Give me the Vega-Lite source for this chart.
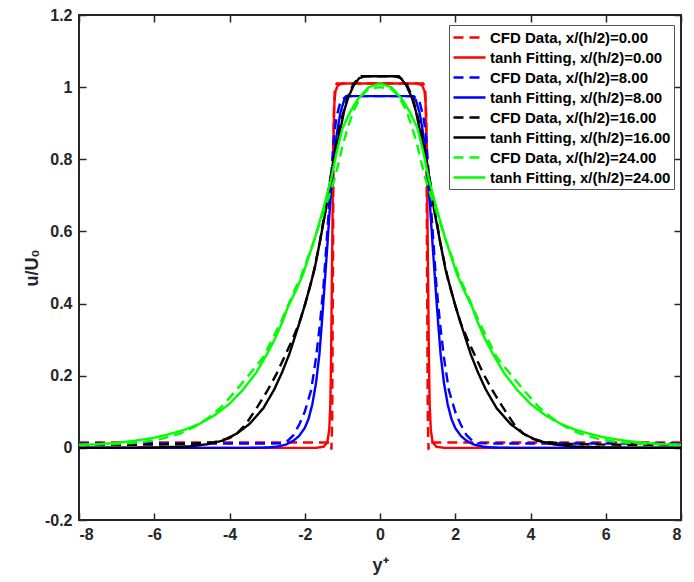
{
  "$schema": "https://vega.github.io/schema/vega-lite/v6.json",
  "width": 602,
  "height": 505,
  "autosize": {"type": "none"},
  "padding": {"left": 79, "top": 15, "right": 13, "bottom": 62},
  "background": "white",
  "config": {
    "font": "Liberation Sans",
    "view": {"stroke": "#262626", "strokeWidth": 2},
    "axis": {
      "domain": false,
      "grid": false,
      "tickColor": "#262626",
      "tickWidth": 1.5,
      "tickSize": -7,
      "labelFont": "Liberation Sans",
      "labelFontWeight": "bold",
      "labelFontSize": 16,
      "labelColor": "#262626",
      "titleFont": "Liberation Sans",
      "titleFontWeight": "bold",
      "titleFontSize": 18,
      "titleColor": "#262626"
    },
    "legend": {
      "fillColor": "white",
      "strokeColor": "#555555",
      "strokeWidth": 1,
      "padding": 3,
      "symbolType": "M-1,0H3",
      "symbolSize": 256,
      "symbolStrokeWidth": 2.4,
      "labelFont": "Liberation Sans",
      "labelFontSize": 15,
      "labelFontWeight": "bold",
      "labelColor": "#000000",
      "labelOffset": 19,
      "labelLimit": 400,
      "rowPadding": 2
    }
  },
  "data": {
    "values": [
      {"k":"A","x":-8,"u":0.015},{"k":"A","x":-1.31,"u":0.015},{"k":"A","x":-1.29,"u":-0.005},{"k":"A","x":-1.27,"u":0.08},{"k":"A","x":-1.25,"u":0.5},{"k":"A","x":-1.23,"u":0.92},{"k":"A","x":-1.2,"u":1.0},{"k":"A","x":-1.15,"u":1.01},{"k":"A","x":0,"u":1.01},{"k":"A","x":1.15,"u":1.01},{"k":"A","x":1.2,"u":1.0},{"k":"A","x":1.23,"u":0.92},{"k":"A","x":1.25,"u":0.5},{"k":"A","x":1.27,"u":0.08},{"k":"A","x":1.29,"u":-0.005},{"k":"A","x":1.31,"u":0.015},{"k":"A","x":8,"u":0.015},

      {"k":"B","x":-8,"u":0},{"k":"B","x":-1.7,"u":0},{"k":"B","x":-1.5,"u":0.003},{"k":"B","x":-1.4,"u":0.015},{"k":"B","x":-1.35,"u":0.05},{"k":"B","x":-1.32,"u":0.12},{"k":"B","x":-1.3,"u":0.25},{"k":"B","x":-1.28,"u":0.45},{"k":"B","x":-1.26,"u":0.65},{"k":"B","x":-1.24,"u":0.85},{"k":"B","x":-1.21,"u":0.96},{"k":"B","x":-1.18,"u":0.99},{"k":"B","x":-1.12,"u":1.005},{"k":"B","x":-1.0,"u":1.01},{"k":"B","x":0,"u":1.01},{"k":"B","x":1.0,"u":1.01},{"k":"B","x":1.12,"u":1.005},{"k":"B","x":1.18,"u":0.99},{"k":"B","x":1.21,"u":0.96},{"k":"B","x":1.24,"u":0.85},{"k":"B","x":1.26,"u":0.65},{"k":"B","x":1.28,"u":0.45},{"k":"B","x":1.3,"u":0.25},{"k":"B","x":1.32,"u":0.12},{"k":"B","x":1.35,"u":0.05},{"k":"B","x":1.4,"u":0.015},{"k":"B","x":1.5,"u":0.003},{"k":"B","x":1.7,"u":0},{"k":"B","x":8,"u":0},

      {"k":"C","x":-8,"u":0.012},{"k":"C","x":-3.0,"u":0.012},{"k":"C","x":-2.6,"u":0.013},{"k":"C","x":-2.45,"u":0.02},{"k":"C","x":-2.3,"u":0.035},{"k":"C","x":-2.14,"u":0.066},{"k":"C","x":-2.0,"u":0.1},{"k":"C","x":-1.83,"u":0.16},{"k":"C","x":-1.7,"u":0.25},{"k":"C","x":-1.6,"u":0.34},{"k":"C","x":-1.5,"u":0.45},{"k":"C","x":-1.4,"u":0.6},{"k":"C","x":-1.3,"u":0.75},{"k":"C","x":-1.22,"u":0.87},{"k":"C","x":-1.15,"u":0.92},{"k":"C","x":-1.05,"u":0.96},{"k":"C","x":-0.9,"u":0.975},{"k":"C","x":0,"u":0.975},{"k":"C","x":0.9,"u":0.975},{"k":"C","x":1.05,"u":0.96},{"k":"C","x":1.15,"u":0.92},{"k":"C","x":1.22,"u":0.87},{"k":"C","x":1.3,"u":0.75},{"k":"C","x":1.4,"u":0.6},{"k":"C","x":1.5,"u":0.45},{"k":"C","x":1.6,"u":0.34},{"k":"C","x":1.7,"u":0.25},{"k":"C","x":1.83,"u":0.16},{"k":"C","x":2.0,"u":0.1},{"k":"C","x":2.14,"u":0.066},{"k":"C","x":2.3,"u":0.035},{"k":"C","x":2.45,"u":0.02},{"k":"C","x":2.6,"u":0.013},{"k":"C","x":3.0,"u":0.012},{"k":"C","x":8,"u":0.012},

      {"k":"D","x":-8,"u":0},{"k":"D","x":-3.5,"u":0},{"k":"D","x":-3.0,"u":0.001},{"k":"D","x":-2.75,"u":0.003},{"k":"D","x":-2.5,"u":0.009},{"k":"D","x":-2.3,"u":0.02},{"k":"D","x":-2.15,"u":0.033},{"k":"D","x":-2.0,"u":0.055},{"k":"D","x":-1.9,"u":0.08},{"k":"D","x":-1.8,"u":0.12},{"k":"D","x":-1.7,"u":0.18},{"k":"D","x":-1.61,"u":0.26},{"k":"D","x":-1.55,"u":0.34},{"k":"D","x":-1.48,"u":0.44},{"k":"D","x":-1.4,"u":0.56},{"k":"D","x":-1.33,"u":0.67},{"k":"D","x":-1.25,"u":0.78},{"k":"D","x":-1.15,"u":0.87},{"k":"D","x":-1.05,"u":0.93},{"k":"D","x":-0.95,"u":0.965},{"k":"D","x":-0.8,"u":0.975},{"k":"D","x":0,"u":0.975},{"k":"D","x":0.8,"u":0.975},{"k":"D","x":0.95,"u":0.965},{"k":"D","x":1.05,"u":0.93},{"k":"D","x":1.15,"u":0.87},{"k":"D","x":1.25,"u":0.78},{"k":"D","x":1.33,"u":0.67},{"k":"D","x":1.4,"u":0.56},{"k":"D","x":1.48,"u":0.44},{"k":"D","x":1.55,"u":0.34},{"k":"D","x":1.61,"u":0.26},{"k":"D","x":1.7,"u":0.18},{"k":"D","x":1.8,"u":0.12},{"k":"D","x":1.9,"u":0.08},{"k":"D","x":2.0,"u":0.055},{"k":"D","x":2.15,"u":0.033},{"k":"D","x":2.3,"u":0.02},{"k":"D","x":2.5,"u":0.009},{"k":"D","x":2.75,"u":0.003},{"k":"D","x":3.0,"u":0.001},{"k":"D","x":3.5,"u":0},{"k":"D","x":8,"u":0},

      {"k":"E","x":-8,"u":0.008},{"k":"E","x":-6,"u":0.009},{"k":"E","x":-5.0,"u":0.011},{"k":"E","x":-4.4,"u":0.016},{"k":"E","x":-4.0,"u":0.027},{"k":"E","x":-3.8,"u":0.04},{"k":"E","x":-3.56,"u":0.066},{"k":"E","x":-3.25,"u":0.115},{"k":"E","x":-2.99,"u":0.159},{"k":"E","x":-2.75,"u":0.205},{"k":"E","x":-2.54,"u":0.252},{"k":"E","x":-2.35,"u":0.295},{"k":"E","x":-2.15,"u":0.345},{"k":"E","x":-2.0,"u":0.395},{"k":"E","x":-1.8,"u":0.47},{"k":"E","x":-1.6,"u":0.57},{"k":"E","x":-1.45,"u":0.665},{"k":"E","x":-1.3,"u":0.76},{"k":"E","x":-1.15,"u":0.85},{"k":"E","x":-1.0,"u":0.92},{"k":"E","x":-0.85,"u":0.975},{"k":"E","x":-0.7,"u":1.01},{"k":"E","x":-0.5,"u":1.03},{"k":"E","x":0,"u":1.03},{"k":"E","x":0.5,"u":1.03},{"k":"E","x":0.7,"u":1.01},{"k":"E","x":0.85,"u":0.975},{"k":"E","x":1.0,"u":0.92},{"k":"E","x":1.15,"u":0.85},{"k":"E","x":1.3,"u":0.76},{"k":"E","x":1.45,"u":0.665},{"k":"E","x":1.6,"u":0.57},{"k":"E","x":1.8,"u":0.47},{"k":"E","x":2.0,"u":0.395},{"k":"E","x":2.15,"u":0.345},{"k":"E","x":2.35,"u":0.295},{"k":"E","x":2.54,"u":0.252},{"k":"E","x":2.75,"u":0.205},{"k":"E","x":2.99,"u":0.159},{"k":"E","x":3.25,"u":0.115},{"k":"E","x":3.56,"u":0.066},{"k":"E","x":3.8,"u":0.04},{"k":"E","x":4.0,"u":0.027},{"k":"E","x":4.4,"u":0.016},{"k":"E","x":5.0,"u":0.011},{"k":"E","x":6,"u":0.009},{"k":"E","x":8,"u":0.008},

      {"k":"F","x":-8,"u":0},{"k":"F","x":-6,"u":0.001},{"k":"F","x":-5.07,"u":0.004},{"k":"F","x":-4.6,"u":0.01},{"k":"F","x":-4.18,"u":0.02},{"k":"F","x":-3.8,"u":0.04},{"k":"F","x":-3.47,"u":0.066},{"k":"F","x":-3.1,"u":0.11},{"k":"F","x":-2.81,"u":0.162},{"k":"F","x":-2.6,"u":0.21},{"k":"F","x":-2.41,"u":0.26},{"k":"F","x":-2.13,"u":0.35},{"k":"F","x":-2.0,"u":0.395},{"k":"F","x":-1.88,"u":0.44},{"k":"F","x":-1.74,"u":0.495},{"k":"F","x":-1.6,"u":0.57},{"k":"F","x":-1.43,"u":0.665},{"k":"F","x":-1.3,"u":0.755},{"k":"F","x":-1.12,"u":0.85},{"k":"F","x":-0.95,"u":0.935},{"k":"F","x":-0.85,"u":0.97},{"k":"F","x":-0.7,"u":1.005},{"k":"F","x":-0.55,"u":1.025},{"k":"F","x":-0.4,"u":1.03},{"k":"F","x":0,"u":1.03},{"k":"F","x":0.4,"u":1.03},{"k":"F","x":0.55,"u":1.025},{"k":"F","x":0.7,"u":1.005},{"k":"F","x":0.85,"u":0.97},{"k":"F","x":0.95,"u":0.935},{"k":"F","x":1.12,"u":0.85},{"k":"F","x":1.3,"u":0.755},{"k":"F","x":1.43,"u":0.665},{"k":"F","x":1.6,"u":0.57},{"k":"F","x":1.74,"u":0.495},{"k":"F","x":1.88,"u":0.44},{"k":"F","x":2.0,"u":0.395},{"k":"F","x":2.13,"u":0.35},{"k":"F","x":2.41,"u":0.26},{"k":"F","x":2.6,"u":0.21},{"k":"F","x":2.81,"u":0.162},{"k":"F","x":3.1,"u":0.11},{"k":"F","x":3.47,"u":0.066},{"k":"F","x":3.8,"u":0.04},{"k":"F","x":4.18,"u":0.02},{"k":"F","x":4.6,"u":0.01},{"k":"F","x":5.07,"u":0.004},{"k":"F","x":6,"u":0.001},{"k":"F","x":8,"u":0},

      {"k":"G","x":-8,"u":0.009},{"k":"G","x":-7.0,"u":0.011},{"k":"G","x":-6.3,"u":0.016},{"k":"G","x":-5.8,"u":0.025},{"k":"G","x":-5.3,"u":0.04},{"k":"G","x":-4.9,"u":0.06},{"k":"G","x":-4.54,"u":0.085},{"k":"G","x":-4.2,"u":0.115},{"k":"G","x":-3.83,"u":0.159},{"k":"G","x":-3.5,"u":0.2},{"k":"G","x":-3.1,"u":0.252},{"k":"G","x":-2.65,"u":0.345},{"k":"G","x":-2.3,"u":0.43},{"k":"G","x":-2.1,"u":0.475},{"k":"G","x":-1.75,"u":0.575},{"k":"G","x":-1.5,"u":0.655},{"k":"G","x":-1.35,"u":0.7},{"k":"G","x":-1.21,"u":0.745},{"k":"G","x":-1.1,"u":0.79},{"k":"G","x":-1.0,"u":0.835},{"k":"G","x":-0.85,"u":0.89},{"k":"G","x":-0.7,"u":0.935},{"k":"G","x":-0.5,"u":0.975},{"k":"G","x":-0.3,"u":0.995},{"k":"G","x":0,"u":1.0},{"k":"G","x":0.3,"u":0.995},{"k":"G","x":0.5,"u":0.975},{"k":"G","x":0.7,"u":0.935},{"k":"G","x":0.85,"u":0.89},{"k":"G","x":1.0,"u":0.835},{"k":"G","x":1.1,"u":0.79},{"k":"G","x":1.21,"u":0.745},{"k":"G","x":1.35,"u":0.7},{"k":"G","x":1.5,"u":0.655},{"k":"G","x":1.75,"u":0.575},{"k":"G","x":2.1,"u":0.475},{"k":"G","x":2.3,"u":0.43},{"k":"G","x":2.65,"u":0.345},{"k":"G","x":3.1,"u":0.252},{"k":"G","x":3.5,"u":0.2},{"k":"G","x":3.83,"u":0.159},{"k":"G","x":4.2,"u":0.115},{"k":"G","x":4.54,"u":0.085},{"k":"G","x":4.9,"u":0.06},{"k":"G","x":5.3,"u":0.04},{"k":"G","x":5.8,"u":0.025},{"k":"G","x":6.3,"u":0.016},{"k":"G","x":7.0,"u":0.011},{"k":"G","x":8,"u":0.009},

      {"k":"H","x":-8,"u":0.008},{"k":"H","x":-7.5,"u":0.01},{"k":"H","x":-7.0,"u":0.014},{"k":"H","x":-6.5,"u":0.02},{"k":"H","x":-6.0,"u":0.028},{"k":"H","x":-5.6,"u":0.038},{"k":"H","x":-5.2,"u":0.05},{"k":"H","x":-4.81,"u":0.066},{"k":"H","x":-4.4,"u":0.09},{"k":"H","x":-4.0,"u":0.122},{"k":"H","x":-3.65,"u":0.16},{"k":"H","x":-3.3,"u":0.207},{"k":"H","x":-3.03,"u":0.255},{"k":"H","x":-2.8,"u":0.3},{"k":"H","x":-2.59,"u":0.35},{"k":"H","x":-2.45,"u":0.39},{"k":"H","x":-2.23,"u":0.437},{"k":"H","x":-2.05,"u":0.48},{"k":"H","x":-1.75,"u":0.575},{"k":"H","x":-1.5,"u":0.665},{"k":"H","x":-1.3,"u":0.745},{"k":"H","x":-1.15,"u":0.82},{"k":"H","x":-1.0,"u":0.885},{"k":"H","x":-0.8,"u":0.93},{"k":"H","x":-0.6,"u":0.965},{"k":"H","x":-0.3,"u":1.0},{"k":"H","x":0,"u":1.01},{"k":"H","x":0.3,"u":1.0},{"k":"H","x":0.6,"u":0.965},{"k":"H","x":0.8,"u":0.93},{"k":"H","x":1.0,"u":0.885},{"k":"H","x":1.15,"u":0.82},{"k":"H","x":1.3,"u":0.745},{"k":"H","x":1.5,"u":0.665},{"k":"H","x":1.75,"u":0.575},{"k":"H","x":2.05,"u":0.48},{"k":"H","x":2.23,"u":0.437},{"k":"H","x":2.45,"u":0.39},{"k":"H","x":2.59,"u":0.35},{"k":"H","x":2.8,"u":0.3},{"k":"H","x":3.03,"u":0.255},{"k":"H","x":3.3,"u":0.207},{"k":"H","x":3.65,"u":0.16},{"k":"H","x":4.0,"u":0.122},{"k":"H","x":4.4,"u":0.09},{"k":"H","x":4.81,"u":0.066},{"k":"H","x":5.2,"u":0.05},{"k":"H","x":5.6,"u":0.038},{"k":"H","x":6.0,"u":0.028},{"k":"H","x":6.5,"u":0.02},{"k":"H","x":7.0,"u":0.014},{"k":"H","x":7.5,"u":0.01},{"k":"H","x":8,"u":0.008}
    ]
  },
  "transform": [
    {
      "lookup": "k",
      "from": {
        "data": {
          "values": [
            {"k": "A", "series": "CFD Data, x/(h/2)=0.00"},
            {"k": "B", "series": "tanh Fitting, x/(h/2)=0.00"},
            {"k": "C", "series": "CFD Data, x/(h/2)=8.00"},
            {"k": "D", "series": "tanh Fitting, x/(h/2)=8.00"},
            {"k": "E", "series": "CFD Data, x/(h/2)=16.00"},
            {"k": "F", "series": "tanh Fitting, x/(h/2)=16.00"},
            {"k": "G", "series": "CFD Data, x/(h/2)=24.00"},
            {"k": "H", "series": "tanh Fitting, x/(h/2)=24.00"}
          ]
        },
        "key": "k",
        "fields": ["series"]
      }
    }
  ],
  "layer": [
    {
      "mark": {"type": "line", "strokeWidth": 2.4, "clip": true},
      "encoding": {
        "x": {
          "field": "x",
          "type": "quantitative",
          "scale": {"domain": [-8, 8], "nice": false, "zero": false},
          "axis": {
            "orient": "bottom",
            "values": [-8, -6, -4, -2, 0, 2, 4, 6, 8],
            "labelExpr": "replace(format(datum.value, '~g'), '−', '-')",
            "labelPadding": 13,
            "title": "y⁺",
            "titlePadding": 14
          }
        },
        "y": {
          "field": "u",
          "type": "quantitative",
          "scale": {"domain": [-0.2, 1.2], "nice": false, "zero": false},
          "axis": {
            "orient": "left",
            "values": [-0.2, 0, 0.2, 0.4, 0.6, 0.8, 1, 1.2],
            "labelExpr": "replace(format(datum.value, '~g'), '−', '-')",
            "labelPadding": 14,
            "title": "u/U₀",
            "titlePadding": 3
          }
        },
        "color": {
          "field": "series",
          "type": "nominal",
          "scale": {
            "domain": ["CFD Data, x/(h/2)=0.00", "tanh Fitting, x/(h/2)=0.00", "CFD Data, x/(h/2)=8.00", "tanh Fitting, x/(h/2)=8.00", "CFD Data, x/(h/2)=16.00", "tanh Fitting, x/(h/2)=16.00", "CFD Data, x/(h/2)=24.00", "tanh Fitting, x/(h/2)=24.00"],
            "range": ["#ff0000", "#ff0000", "#0000ff", "#0000ff", "#000000", "#000000", "#00ff00", "#00ff00"]
          },
          "legend": {"title": null, "orient": "none", "legendX": 370, "legendY": 10}
        },
        "strokeDash": {
          "field": "series",
          "type": "nominal",
          "scale": {
            "domain": ["CFD Data, x/(h/2)=0.00", "tanh Fitting, x/(h/2)=0.00", "CFD Data, x/(h/2)=8.00", "tanh Fitting, x/(h/2)=8.00", "CFD Data, x/(h/2)=16.00", "tanh Fitting, x/(h/2)=16.00", "CFD Data, x/(h/2)=24.00", "tanh Fitting, x/(h/2)=24.00"],
            "range": [[10, 6], [1, 0], [10, 6], [1, 0], [10, 6], [1, 0], [10, 6], [1, 0]]
          },
          "legend": {"title": null, "orient": "none", "legendX": 370, "legendY": 10}
        }
      }
    },
    {
      "mark": {"type": "point", "opacity": 0},
      "encoding": {
        "x": {
          "field": "x",
          "type": "quantitative",
          "axis": {"orient": "top", "values": [-8, -6, -4, -2, 0, 2, 4, 6, 8], "labels": false, "title": null}
        },
        "y": {
          "field": "u",
          "type": "quantitative",
          "axis": {"orient": "right", "values": [-0.2, 0, 0.2, 0.4, 0.6, 0.8, 1, 1.2], "labels": false, "title": null}
        }
      }
    }
  ],
  "resolve": {"axis": {"x": "independent", "y": "independent"}}
}
